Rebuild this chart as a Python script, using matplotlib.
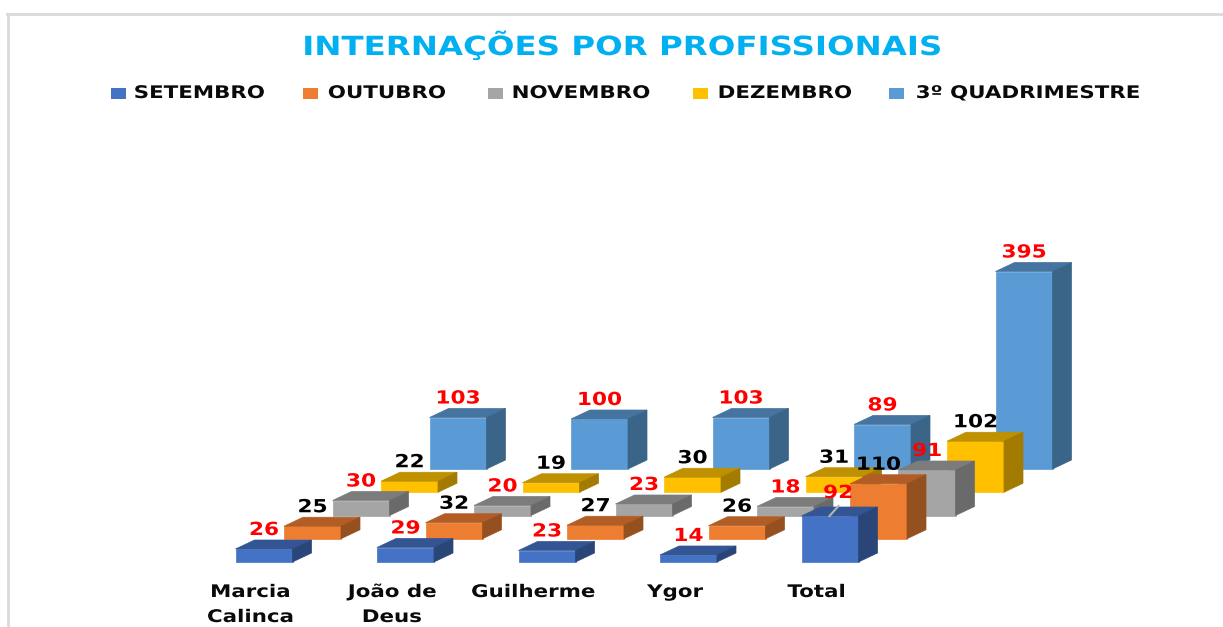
#!/usr/bin/env python3
from matplotlib import pyplot as plt
from matplotlib.patches import Polygon, Rectangle
from matplotlib.patheffects import AbstractPathEffect
from matplotlib.transforms import Affine2D

categorias = ['Marcia\nCalinca', 'João de\nDeus', 'Guilherme', 'Ygor', 'Total']
setembro = [26, 29, 23, 14, 92]
outubro = [25, 32, 27, 26, 110]
novembro = [30, 20, 23, 18, 91]
dezembro = [22, 19, 30, 31, 102]
quadrimestre = [103, 100, 103, 89, 395]

nomes = ['SETEMBRO', 'OUTUBRO', 'NOVEMBRO', 'DEZEMBRO', '3º QUADRIMESTRE']
series = [setembro, outubro, novembro, dezembro, quadrimestre]

# front, top, side
cores = [
	('#4472C4', '#335593', '#2A4678'),
	('#ED7D31', '#B25D25', '#95501F'),
	('#A5A5A5', '#7C7C7C', '#6A6A6A'),
	('#FFC000', '#BF9000', '#A37B00'),
	('#5B9BD5', '#44749F', '#3A6488'),
]
cores_rotulo = ['red', 'black', 'red', 'black', 'red']

# one x unit = one category (141.5 px), one y unit = one patient (0.5 px)
PX_X = 1 / 141.5
PX_Y = 2.0
LARGURA = 57 * PX_X
PROF_X = 19 * PX_X
PROF_Y = 9 * PX_Y
PASSO_X = 48.5 * PX_X
PASSO_Y = 23.25 * PX_Y
FONTE = 'DejaVu Sans'

# legend layout, px from the left of the figure
LEG_CAIXA = [111, 303, 488, 693, 889]
LEG_TEXTO = [134, 328, 512, 718, 916]


class Esticar(AbstractPathEffect):
	# the reference text is stretched sideways, keep it real text and widen the glyphs
	def __init__(self, fator, esquerda=False):
		super().__init__()
		self.fator = fator
		self.esquerda = esquerda

	def draw_path(self, renderer, gc, tpath, affine, rgbFace=None):
		ext = tpath.get_extents(affine)
		x0 = ext.x0 if self.esquerda else (ext.x0 + ext.x1) / 2
		novo = affine + Affine2D().translate(-x0, 0).scale(self.fator, 1).translate(x0, 0)
		renderer.draw_path(gc, tpath, novo, rgbFace)


def barra(ax, x, base, valor, cor, ordem):
	frente, topo, lado = cor
	h = base + valor
	quads = [
		(frente, [(x, base), (x + LARGURA, base), (x + LARGURA, h), (x, h)]),
		(topo, [(x, h), (x + LARGURA, h), (x + LARGURA + PROF_X, h + PROF_Y), (x + PROF_X, h + PROF_Y)]),
		(lado, [(x + LARGURA, base), (x + LARGURA + PROF_X, base + PROF_Y), (x + LARGURA + PROF_X, h + PROF_Y), (x + LARGURA, h)]),
	]
	for c, pts in quads:
		ax.add_patch(Polygon(pts, closed=True, facecolor=c, edgecolor=c, linewidth=0.5, zorder=ordem))


def main():
	fig = plt.figure(figsize=(12.23, 6.27), dpi=100)
	ax = fig.add_axes([0, 0, 1, 1])
	ax.set_xlim(-235.5 * PX_X, (1223 - 235.5) * PX_X)
	ax.set_ylim(-(627 - 562) * PX_Y, 562 * PX_Y)
	ax.axis('off')

	ordem = 2
	for c in range(len(categorias)):
		for s in reversed(range(len(series))):
			x = c + s * PASSO_X
			base = s * PASSO_Y
			valor = series[s][c]
			barra(ax, x, base, valor, cores[s], ordem)
			ordem += 1
			rx = x + LARGURA / 2
			ry = base + valor + 19 * PX_Y
			# the 92 label was dragged off its bar, hence the leader line
			if c == 4 and s == 0:
				rx += 8 * PX_X
				ry += 4 * PX_Y
			ax.text(rx, ry, str(valor), color=cores_rotulo[s], ha='center', va='center', fontsize=13,
				fontweight='bold', family=FONTE, zorder=500, path_effects=[Esticar(1.2)])
		ax.text(c + 15 * PX_X, -21 * PX_Y, categorias[c], ha='center', va='top', fontsize=12.5,
			fontweight='bold', family=FONTE, color='#0A0A0A', linespacing=1.5, zorder=500,
			path_effects=[Esticar(1.23)])

	# leader line of the 92 label
	ax.plot([4 + 28 * PX_X, 4 + 37 * PX_X], [92, 92 + 10 * PX_Y], color='#B5B5B5', linewidth=1.5, zorder=450)

	fig.text(622 / 1223, 1 - 45.5 / 627, 'INTERNAÇÕES POR PROFISSIONAIS', color='#00B0F0', ha='center',
		va='center', fontsize=19, fontweight='bold', family=FONTE, path_effects=[Esticar(1.23)])

	for i in range(len(nomes)):
		fig.add_artist(Rectangle((LEG_CAIXA[i] / 1223, 1 - 99 / 627), 15 / 1223, 11 / 627, facecolor=cores[i][0],
			edgecolor='none', transform=fig.transFigure))
		fig.text(LEG_TEXTO[i] / 1223, 1 - 93 / 627, nomes[i], color='#0A0A0A', ha='left', va='center', fontsize=12.5,
			fontweight='bold', family=FONTE, path_effects=[Esticar(1.23, esquerda=True)])

	# chart frame, only left and top are visible
	fig.add_artist(plt.Line2D([8 / 1223, 8 / 1223], [0, 1 - 14 / 627], color='#D9D9D9', linewidth=2))
	fig.add_artist(plt.Line2D([7 / 1223, 1], [1 - 14 / 627, 1 - 14 / 627], color='#D9D9D9', linewidth=2))

	plt.savefig('out.png', dpi=100)
	plt.close()


if __name__ == '__main__':
	main()
